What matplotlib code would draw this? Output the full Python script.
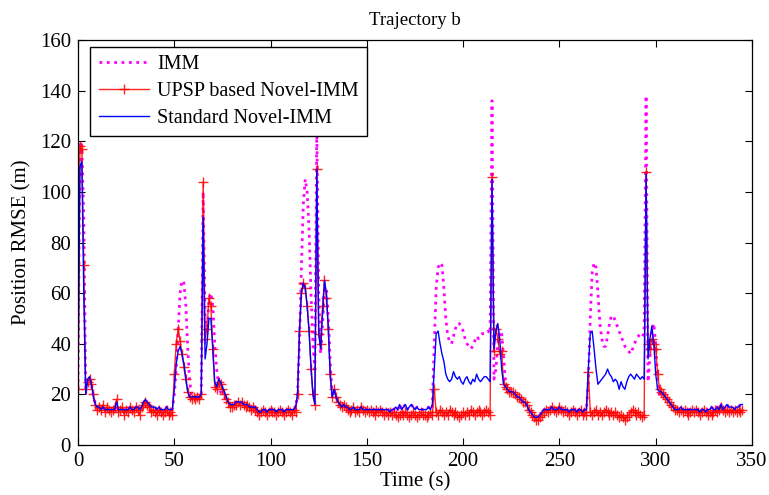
import numpy as np
import matplotlib
matplotlib.use("Agg")
import matplotlib.pyplot as plt

plt.rcParams['font.family'] = ['Liberation Serif', 'DejaVu Serif']
plt.rcParams['mathtext.fontset'] = 'stix'

title = "Trajectory b"
xlabel = "Time (s)"
ylabel = "Position RMSE (m)"
labels = ["IMM", "UPSP based Novel-IMM", "Standard Novel-IMM"]
xticks = [0, 50, 100, 150, 200, 250, 300, 350]
yticks = [0, 20, 40, 60, 80, 100, 120, 140, 160]

time_s = np.arange(0, 346)

upsp = [
    22, 118, 117, 71, 22, 25, 26, 24, 20, 16,
    14, 15, 14, 16, 13, 15, 14, 13, 14, 15,
    18, 13, 14, 15, 12, 14, 13, 15, 14, 13,
    15, 14, 12, 15, 16, 17, 16, 15, 13, 14,
    13, 12, 14, 13, 12, 13, 14, 12, 13, 12,
    28, 40, 46, 41, 36, 31, 26, 21, 19, 18,
    19, 18, 19, 18, 20, 104, 42, 46, 58, 55,
    38, 23, 22, 25, 24, 22, 20, 18, 17, 15,
    15, 16, 16, 17, 16, 17, 16, 15, 16, 15,
    14, 15, 14, 13, 12, 13, 14, 13, 12, 13,
    14, 13, 13, 12, 13, 14, 13, 12, 13, 14,
    13, 12, 14, 13, 20, 45, 60, 64, 62, 55,
    45, 30, 20, 16, 109, 44, 40, 55, 65, 58,
    46, 28, 19, 22, 19, 17, 16, 15, 16, 15,
    14, 13, 14, 15, 13, 14, 13, 15, 14, 13,
    14, 13, 14, 13, 12, 14, 13, 14, 13, 12,
    13, 12, 13, 12, 13, 12, 11, 12, 13, 12,
    13, 12, 11, 12, 13, 12, 11, 12, 13, 12,
    12, 11, 12, 13, 12, 22, 13, 12, 14, 13,
    12, 13, 12, 14, 13, 12, 13, 12, 11, 12,
    13, 12, 13, 12, 14, 13, 12, 13, 14, 13,
    12, 13, 14, 13, 12, 106, 37, 46, 42, 36,
    37, 24, 23, 22, 21, 21, 21, 20, 19, 19,
    18, 17, 17, 16, 14, 13, 12, 11, 10, 10,
    11, 12, 13, 14, 13, 14, 15, 14, 13, 14,
    15, 14, 13, 14, 13, 12, 13, 14, 13, 12,
    13, 14, 12, 13, 12, 29, 13, 12, 13, 14,
    12, 13, 12, 13, 14, 13, 12, 13, 12, 13,
    12, 11, 12, 11, 10, 11, 12, 13, 14, 13,
    12, 13, 12, 11, 12, 108, 40, 38, 42, 40,
    38, 28, 22, 21, 20, 19, 18, 17, 16, 15,
    14, 14, 13, 14, 13, 14, 13, 12, 13, 14,
    13, 14, 13, 12, 13, 14, 13, 12, 13, 12,
    13, 14, 13, 14, 15, 14, 13, 14, 13, 14,
    13, 14, 13, 14, 13, 14,
]

standard = [
    22, 110, 112, 60, 20, 26, 27, 24, 19, 16,
    15, 15, 14, 15, 14, 14, 14, 14, 14, 14,
    17, 14, 14, 14, 14, 14, 14, 15, 14, 14,
    15, 15, 14, 15, 17, 18, 17, 16, 15, 15,
    15, 14, 15, 14, 14, 14, 15, 14, 14, 14,
    22, 32, 37, 39, 36, 32, 26, 21, 19, 19,
    19, 19, 19, 19, 20, 90, 34, 40, 50, 50,
    38, 25, 23, 26, 25, 23, 21, 19, 17, 16,
    16, 16, 17, 17, 17, 17, 16, 16, 16, 15,
    15, 15, 15, 14, 13, 13, 14, 14, 13, 14,
    14, 14, 14, 13, 14, 14, 14, 13, 14, 14,
    14, 14, 14, 15, 20, 45, 60, 64, 62, 55,
    45, 31, 20, 16, 109, 44, 38, 52, 65, 60,
    46, 27, 19, 22, 19, 17, 16, 15, 16, 15,
    15, 14, 14, 15, 14, 14, 14, 15, 14, 14,
    14, 14, 14, 14, 14, 14, 14, 14, 14, 14,
    14, 14, 13, 14, 14, 15, 14, 16, 14, 15,
    16, 14, 15, 16, 15, 14, 15, 14, 14, 14,
    14, 14, 15, 14, 16, 30, 44, 45, 40, 36,
    33, 28, 26, 25, 26, 29, 27, 26, 27, 25,
    24, 26, 27, 25, 24, 26, 25, 28, 26, 25,
    26, 27, 27, 26, 25, 105, 38, 45, 48, 42,
    30, 24, 23, 22, 21, 21, 21, 20, 19, 19,
    18, 17, 17, 16, 14, 13, 12, 11, 11, 11,
    12, 13, 14, 14, 14, 14, 15, 14, 14, 14,
    15, 14, 14, 14, 14, 13, 14, 14, 14, 13,
    14, 14, 13, 14, 14, 30, 44, 45, 38, 30,
    24, 25, 26, 27, 28, 30, 28, 27, 25, 26,
    25, 22, 25, 23, 22, 25, 27, 28, 27, 26,
    28, 27, 26, 27, 26, 107, 34, 42, 47, 40,
    28, 22, 21, 21, 20, 19, 18, 17, 16, 15,
    14, 14, 14, 15, 14, 14, 14, 14, 14, 14,
    14, 14, 14, 13, 14, 14, 13, 14, 14, 15,
    14, 14, 15, 14, 16, 14, 15, 16, 15, 15,
    15, 14, 15, 15, 16, 16,
]

imm = [
    22, 120, 118, 90, 22, 26, 26, 24, 19, 16,
    15, 15, 14, 15, 14, 14, 14, 14, 14, 14,
    16, 14, 14, 14, 14, 14, 14, 15, 14, 14,
    15, 15, 14, 15, 16, 17, 17, 16, 15, 15,
    15, 14, 15, 14, 14, 14, 15, 14, 14, 14,
    20, 30, 45, 60, 65, 64, 55, 38, 25, 20,
    19, 19, 19, 19, 20, 100, 50, 45, 58, 60,
    55, 40, 30, 24, 21, 20, 19, 18, 17, 16,
    16, 16, 17, 17, 17, 17, 16, 16, 16, 15,
    15, 15, 15, 14, 13, 13, 14, 14, 13, 14,
    14, 14, 14, 13, 14, 14, 14, 13, 14, 14,
    14, 14, 14, 15, 20, 40, 70, 95, 105, 100,
    85, 60, 40, 30, 125, 60, 36, 48, 62, 62,
    50, 32, 20, 22, 19, 17, 16, 15, 16, 15,
    15, 14, 14, 15, 14, 14, 14, 15, 14, 14,
    14, 14, 14, 14, 14, 14, 14, 14, 14, 14,
    14, 14, 13, 14, 14, 15, 14, 16, 14, 15,
    16, 14, 15, 16, 15, 14, 15, 14, 14, 14,
    14, 14, 15, 14, 15, 40, 62, 70, 72, 71,
    62, 50, 43, 41, 40, 43, 46, 48, 48, 47,
    45, 42, 40, 39, 38, 39, 41, 43, 42, 43,
    44, 44, 44, 45, 44, 136, 26, 30, 40, 45,
    44, 35, 25, 22, 21, 21, 21, 20, 19, 19,
    18, 17, 17, 16, 14, 13, 12, 11, 11, 11,
    12, 13, 14, 14, 14, 14, 15, 14, 14, 14,
    15, 14, 14, 14, 14, 13, 14, 14, 14, 13,
    14, 14, 13, 14, 14, 25, 50, 68, 72, 70,
    60, 48, 42, 39, 39, 43, 48, 51, 51, 49,
    47, 45, 43, 41, 39, 38, 37, 36, 38, 40,
    42, 43, 44, 43, 44, 138, 25, 35, 45, 48,
    40, 25, 19, 20, 20, 19, 18, 17, 16, 15,
    14, 14, 14, 15, 14, 14, 14, 14, 14, 14,
    14, 14, 14, 13, 14, 14, 13, 14, 14, 15,
    14, 14, 15, 14, 16, 14, 15, 16, 15, 15,
    15, 14, 15, 15, 16, 16,
]

fig = plt.figure(figsize=(7.69, 4.95), dpi=100)
ax = fig.add_axes([78/769, 50/495, 674/769, 405/495])

ax.plot(time_s, imm, color='#ff00ff', linestyle=':', linewidth=2.0, label=labels[0])
ax.plot(time_s, upsp, color='red', linestyle='-', linewidth=1.0, marker='+',
        markersize=7, markeredgewidth=1.0, alpha=0.85, label=labels[1])
ax.plot(time_s, standard, color='blue', linestyle='-', linewidth=1.0, label=labels[2])

ax.set_xlim(0, 350)
ax.set_ylim(0, 160)
ax.set_xticks(xticks)
ax.set_yticks(yticks)
ax.tick_params(direction='in', top=True, right=True, labelsize=15, length=5, width=0.8)
ax.tick_params(axis='x', pad=5)
ax.tick_params(axis='y', pad=5)
for s in ax.spines.values():
    s.set_linewidth(0.9)

ax.set_title(title, fontsize=13.5, pad=11)
ax.set_xlabel(xlabel, fontsize=15, labelpad=1)
ax.set_ylabel(ylabel, fontsize=15, labelpad=6)

leg = ax.legend(loc='upper left', bbox_to_anchor=(0.018, 0.983), borderaxespad=0,
                fontsize=14.5, fancybox=False, framealpha=1, edgecolor='black',
                handlelength=2.5, labelspacing=0.38, borderpad=0.42, handletextpad=0.4)
leg.get_frame().set_linewidth(1.0)

fig.savefig("out.png", dpi=100)
